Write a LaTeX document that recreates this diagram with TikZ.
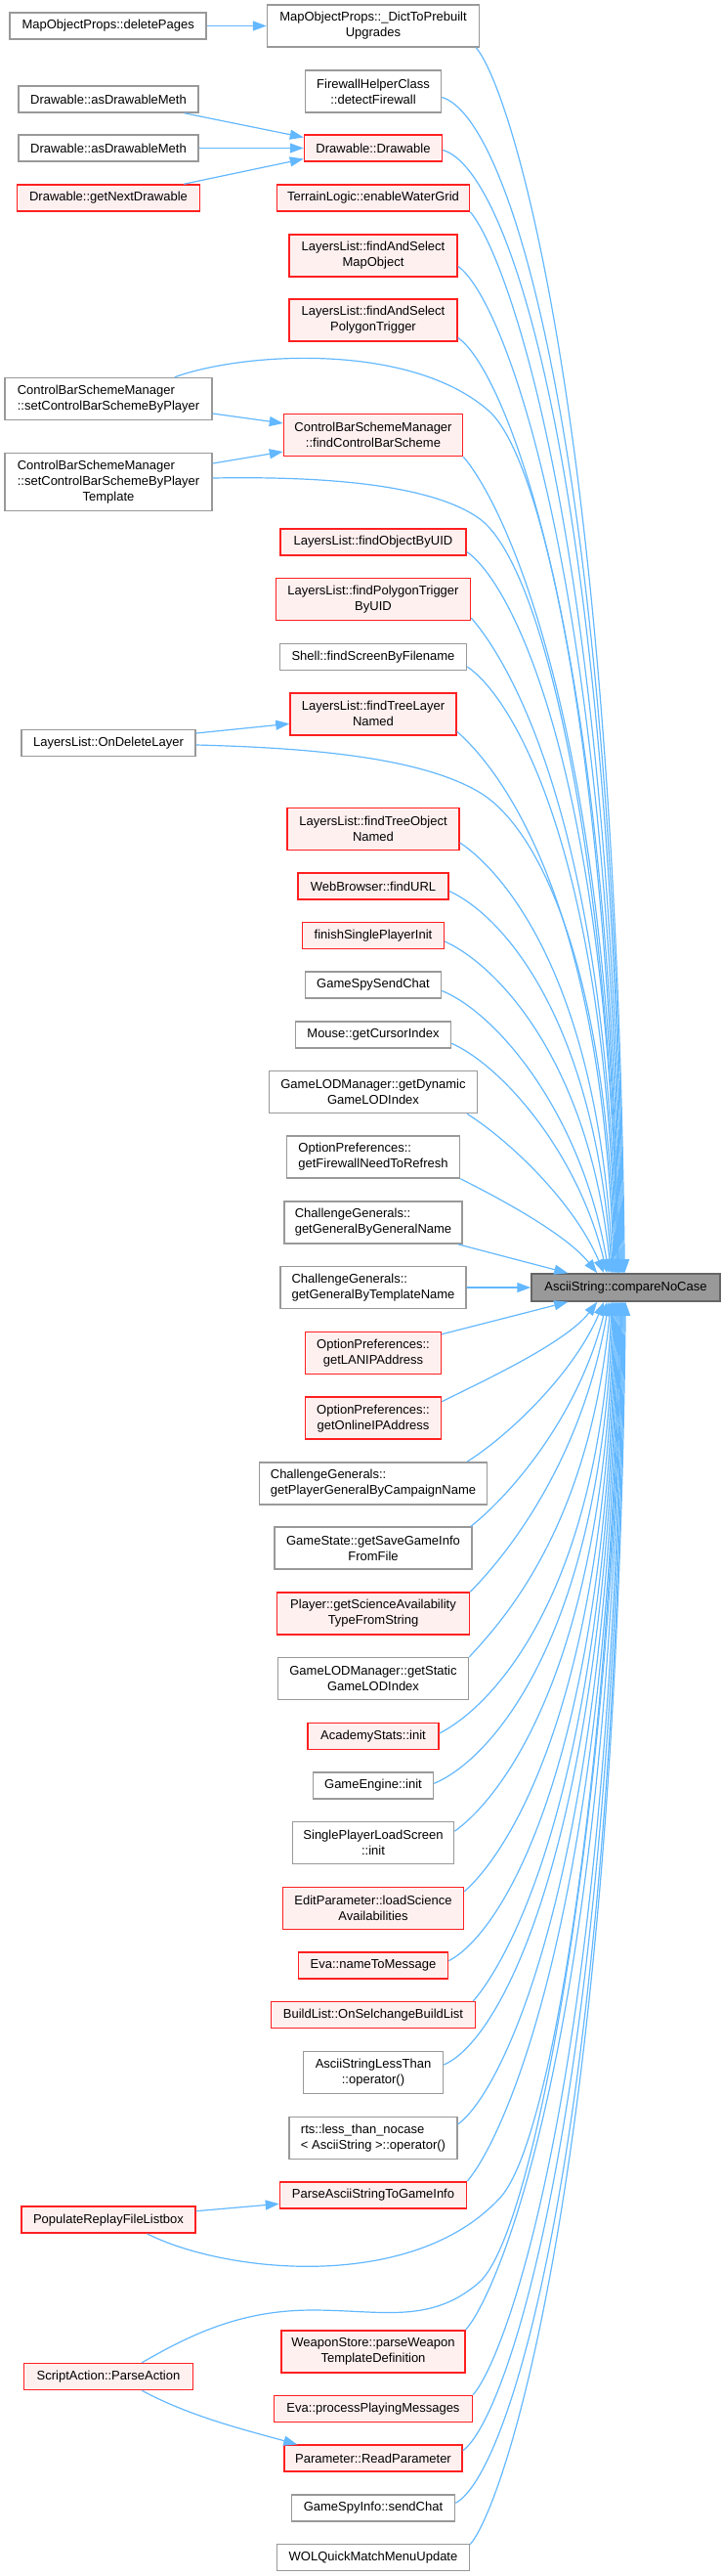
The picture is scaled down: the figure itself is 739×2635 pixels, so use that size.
\documentclass[tikz,border=0pt]{standalone}
\usepackage{fontspec}
\setmainfont{Liberation Sans}
\usepackage{calc}
\usetikzlibrary{arrows.meta,calc}
\definecolor{edgec}{HTML}{63B8FF}
\definecolor{redb}{HTML}{FF2020}
\definecolor{redf}{HTML}{FFF0F0}
\definecolor{grayb}{HTML}{999999}
\definecolor{tgtf}{HTML}{999999}
\definecolor{tgtb}{HTML}{666666}
\begin{document}
\begin{tikzpicture}[x=1pt,y=-1pt,
 nb/.style={draw, line width=1.5pt, inner sep=0pt, font=\fontsize{13}{16}\selectfont, align=center, text=black},
 gb/.style={nb, draw=grayb, fill=white},
 rb/.style={nb, draw=redb, fill=redf},
 tb/.style={nb, draw=tgtb, fill=tgtf},
 h1/.style={minimum height=27pt},
 h2/.style={minimum height=43pt},
 h3/.style={minimum height=59pt},
 ce/.style={draw=edgec, line width=1.2pt, -{Triangle[length=14pt,width=10pt]}}]
\useasboundingbox (0,0) rectangle (739,2635);
% left column
\node[gb,h1,minimum width=201pt] (delP) at (110.7,26.5) {MapObjectProps::deletePages};
\node[gb,h1,minimum width=184pt] (adm1) at (111,101.5) {Drawable::asDrawableMeth};
\node[gb,h1,minimum width=184pt] (adm2) at (111,151.5) {Drawable::asDrawableMeth};
\node[rb,h1,minimum width=187pt] (gnd) at (111,202.5) {Drawable::getNextDrawable};
\node[gb,h2,minimum width=212pt,align=left] (scbp) at (111,408) {ControlBarSchemeManager\\::setControlBarSchemeByPlayer};
\node[gb,h3,minimum width=212pt] (scbpt) at (111,493) {\makebox[\widthof{::setControlBarSchemeByPlayer}][l]{ControlBarSchemeManager}\\::setControlBarSchemeByPlayer\\Template};
\node[gb,h1,minimum width=178pt] (odl) at (111,760) {LayersList::OnDeleteLayer};
\node[rb,h1,minimum width=178pt] (prfl) at (111,2270.7) {PopulateReplayFileListbox};
\node[rb,h1,minimum width=173pt] (spa) at (111,2431) {ScriptAction::ParseAction};
% middle column
\node[gb,h2,minimum width=217pt] (dtp) at (382,26.5) {MapObjectProps::\_DictToPrebuilt\\Upgrades};
\node[gb,h2,minimum width=139pt] (fw) at (382,93.5) {FirewallHelperClass\\::detectFirewall};
\node[rb,h1,minimum width=141pt] (dd) at (382,151.5) {Drawable::Drawable};
\node[rb,h1,minimum width=197pt] (tl) at (382,202.5) {TerrainLogic::enableWaterGrid};
\node[rb,h2,minimum width=172pt] (fasm) at (382,261.5) {LayersList::findAndSelect\\MapObject};
\node[rb,h2,minimum width=172pt] (fasp) at (382,327.5) {LayersList::findAndSelect\\PolygonTrigger};
\node[rb,h2,minimum width=183pt] (fcbs) at (382,445) {ControlBarSchemeManager\\::findControlBarScheme};
\node[rb,h1,minimum width=190pt] (fou) at (382,554.5) {LayersList::findObjectByUID};
\node[rb,h2,minimum width=199pt] (fpt) at (382,613) {LayersList::findPolygonTrigger\\ByUID};
\node[gb,h1,minimum width=191pt] (sfs) at (382,672) {Shell::findScreenByFilename};
\node[rb,h2,minimum width=170pt] (ftl) at (382,730.3) {LayersList::findTreeLayer\\Named};
\node[rb,h2,minimum width=176pt] (fto) at (382,848) {LayersList::findTreeObject\\Named};
\node[rb,h1,minimum width=154pt] (wb) at (382,906.5) {WebBrowser::findURL};
\node[rb,h1,minimum width=145pt] (fsp) at (382,957) {finishSinglePlayerInit};
\node[gb,h1,minimum width=139pt] (gssc) at (382,1007.5) {GameSpySendChat};
\node[gb,h1,minimum width=159pt] (mci) at (382,1058.3) {Mouse::getCursorIndex};
\node[gb,h2,minimum width=213pt] (gdl) at (382,1117.2) {GameLODManager::getDynamic\\GameLODIndex};
\node[gb,h2,minimum width=177pt,align=left] (gfn) at (382,1183.5) {OptionPreferences::\\getFirewallNeedToRefresh};
\node[gb,h2,minimum width=182pt,align=left] (ggn) at (382,1250.5) {ChallengeGenerals::\\getGeneralByGeneralName};
\node[gb,h2,minimum width=190pt,align=left] (ggt) at (382,1317) {ChallengeGenerals::\\getGeneralByTemplateName};
\node[tb,minimum height=28pt,minimum width=193pt] (T) at (640.5,1317) {AsciiString::compareNoCase};
\node[rb,h2,minimum width=139pt] (lan) at (382,1384) {OptionPreferences::\\getLANIPAddress};
\node[rb,h2,minimum width=139pt] (oip) at (382,1450.7) {OptionPreferences::\\getOnlineIPAddress};
\node[gb,h2,minimum width=233pt,align=left] (gpg) at (382,1517.3) {ChallengeGenerals::\\getPlayerGeneralByCampaignName};
\node[gb,h2,minimum width=202pt] (gsg) at (382,1583.7) {GameState::getSaveGameInfo\\FromFile};
\node[rb,h2,minimum width=197pt] (psa) at (382,1650.5) {Player::getScienceAvailability\\TypeFromString};
\node[gb,h2,minimum width=195pt] (gsl) at (382,1717.2) {GameLODManager::getStatic\\GameLODIndex};
\node[rb,h1,minimum width=134pt] (asi) at (382,1776) {AcademyStats::init};
\node[gb,h1,minimum width=123pt] (gei) at (382,1826.3) {GameEngine::init};
\node[gb,h2,minimum width=165pt] (spls) at (382,1885.2) {SinglePlayerLoadScreen\\::init};
\node[rb,h2,minimum width=185pt] (epl) at (382,1951.8) {EditParameter::loadScience\\Availabilities};
\node[rb,h1,minimum width=153pt] (ntm) at (382,2010.7) {Eva::nameToMessage};
\node[rb,h1,minimum width=209pt] (bl) at (382,2061.2) {BuildList::OnSelchangeBuildList};
\node[gb,h2,minimum width=143pt] (aslt) at (382,2120) {AsciiStringLessThan\\::operator()};
\node[gb,h2,minimum width=172pt,align=left] (rts) at (382,2186.8) {rts::less\_than\_nocase\\< AsciiString >::operator()};
\node[rb,h1,minimum width=191pt] (pas) at (382,2245.3) {ParseAsciiStringToGameInfo};
\node[rb,h2,minimum width=188pt] (ws) at (382,2405.3) {WeaponStore::parseWeapon\\TemplateDefinition};
\node[rb,h1,minimum width=203pt] (ppm) at (382,2463.8) {Eva::processPlayingMessages};
\node[rb,h1,minimum width=182pt] (rp) at (382,2514.7) {Parameter::ReadParameter};
\node[gb,h1,minimum width=167pt] (gsi) at (382,2565.3) {GameSpyInfo::sendChat};
\node[gb,h1,minimum width=197pt] (wol) at (382,2615.8) {WOLQuickMatchMenuUpdate};
% left-to-middle edges
\draw[ce] (delP.east) -- (dtp.west);
\draw[ce] ($(adm1.south east)+(-15,0)$) -- ($(dd.west)+(0,-11)$);
\draw[ce] (adm2.east) -- (dd.west);
\draw[ce] ($(gnd.north east)+(-17,0)$) -- ($(dd.west)+(0,11)$);
\draw[ce] ($(scbp.east)+(0,15)$) -- ($(fcbs.west)+(0,-12)$);
\draw[ce] ($(scbpt.east)+(0,-19)$) -- ($(fcbs.west)+(0,17)$);
\draw[ce] ($(odl.east)+(0,-10)$) -- ($(ftl.west)+(0,10)$);
\draw[ce] ($(prfl.east)+(0,-9)$) -- ($(pas.west)+(0,9)$);
\draw[ce] ($(spa.south east)+(-53,0)$) .. controls +(50,27) and +(-50,-14) .. ($(rp.north west)+(14,0)$);
% edges into target from above
\draw[ce] ($(dtp.south east)+(-4,0)$) .. controls +(35,40) and +(-10,-878) .. ($(T.north west)+(96,0)$);
\draw[ce] ($(fw.east)+(0,6)$) .. controls +(70,20) and +(-10,-842) .. ($(T.north west)+(95,0)$);
\draw[ce] ($(dd.east)+(0,2)$) .. controls +(70,20) and +(-10,-805) .. ($(T.north west)+(94,0)$);
\draw[ce] (tl.south east) .. controls +(35,40) and +(-10,-761) .. ($(T.north west)+(93,0)$);
\draw[ce] ($(fasm.east)+(0,11)$) .. controls +(45,30) and +(-10,-721) .. ($(T.north west)+(92,0)$);
\draw[ce] ($(fasp.east)+(0,18)$) .. controls +(45,30) and +(-10,-671) .. ($(T.north west)+(91,0)$);
\draw[ce] ($(scbp.north east)+(-39,0)$) .. controls (250,360) and (420,350) .. (500,420) .. controls (560,472) and (624,800) .. ($(T.north west)+(90,0)$);
\draw[ce] (fcbs.south east) .. controls +(35,40) and +(-10,-586) .. ($(T.north west)+(90,0)$);
\draw[ce] ($(scbpt.east)+(0,-4)$) .. controls (330,487) and (440,495) .. (490,530) .. controls (560,579) and (625,900) .. ($(T.north west)+(89,0)$);
\draw[ce] ($(fou.east)+(0,10)$) .. controls +(45,30) and +(-10,-517) .. ($(T.north west)+(89,0)$);
\draw[ce] ($(fpt.east)+(0,19)$) .. controls +(35,40) and +(-10,-470) .. ($(T.north west)+(88,0)$);
\draw[ce] ($(sfs.east)+(0,10)$) .. controls +(45,30) and +(-10,-435) .. ($(T.north west)+(87,0)$);
\draw[ce] ($(odl.east)+(0,2)$) .. controls (320,765) and (430,775) .. (490,810) .. controls (555,848) and (622,1000) .. ($(T.north west)+(86,0)$);
\draw[ce] ($(ftl.east)+(0,18)$) .. controls +(40,35) and +(-12,-389) .. ($(T.north west)+(85,0)$);
\draw[ce] ($(fto.east)+(0,14)$) .. controls +(45,30) and +(-15,-300) .. ($(T.north west)+(84,0)$);
\draw[ce] ($(wb.east)+(0,5)$) .. controls +(55,25) and +(-18,-260) .. ($(T.north west)+(83,0)$);
\draw[ce] ($(fsp.east)+(0,6)$) .. controls +(55,25) and +(-22,-215) .. ($(T.north west)+(82,0)$);
\draw[ce] ($(gssc.east)+(0,6)$) .. controls +(55,22) and +(-28,-165) .. ($(T.north west)+(80,0)$);
\draw[ce] ($(mci.east)+(0,9)$) .. controls +(50,22) and +(-30,-125) .. ($(T.north west)+(78,0)$);
\draw[ce] ($(gdl.south east)+(-11,0)$) .. controls +(40,25) and +(-32,-75) .. ($(T.north west)+(75,0)$);
\draw[ce] (gfn.south east) .. controls +(40,20) and +(-32,-40) .. ($(T.north west)+(68,0)$);
\draw[ce] ($(ggn.south east)+(-5,0)$) -- ($(T.north west)+(38,0)$);
\draw[ce] (ggt.east) -- (T.west);
% edges into target from below
\draw[ce] ($(lan.north east)+(0,3)$) -- ($(T.south west)+(38,0)$);
\draw[ce] ($(oip.east)+(0,-17)$) .. controls +(40,-20) and +(-32,42) .. ($(T.south west)+(68,0)$);
\draw[ce] ($(gpg.north east)+(-21,0)$) .. controls +(40,-25) and +(-32,75) .. ($(T.south west)+(75,0)$);
\draw[ce] ($(gsg.north east)+(-2,0)$) .. controls +(38,-30) and +(-30,120) .. ($(T.south west)+(78,0)$);
\draw[ce] (psa.north east) .. controls +(35,-35) and +(-28,165) .. ($(T.south west)+(80,0)$);
\draw[ce] (gsl.north east) .. controls +(35,-38) and +(-22,230) .. ($(T.south west)+(82,0)$);
\draw[ce] ($(asi.east)+(0,-3)$) .. controls +(55,-28) and +(-15,300) .. ($(T.south west)+(83,0)$);
\draw[ce] ($(gei.east)+(0,-2)$) .. controls +(60,-25) and +(-12,340) .. ($(T.south west)+(84,0)$);
\draw[ce] ($(spls.east)+(0,-12)$) .. controls +(45,-32) and +(-10,380) .. ($(T.south west)+(85,0)$);
\draw[ce] ($(epl.east)+(0,-17)$) .. controls +(40,-35) and +(-10,423) .. ($(T.south west)+(86,0)$);
\draw[ce] ($(ntm.east)+(0,-5)$) .. controls +(55,-28) and +(-10,472) .. ($(T.south west)+(87,0)$);
\draw[ce] ($(bl.north east)+(-3,0)$) .. controls +(35,-40) and +(-10,502) .. ($(T.south west)+(88,0)$);
\draw[ce] ($(aslt.east)+(0,-8)$) .. controls +(60,-25) and +(-10,547) .. ($(T.south west)+(89,0)$);
\draw[ce] ($(rts.east)+(0,-14)$) .. controls +(45,-32) and +(-10,589) .. ($(T.south west)+(90,0)$);
\draw[ce] (pas.north east) .. controls +(35,-40) and +(-10,630) .. ($(T.south west)+(91,0)$);
\draw[ce] ($(prfl.south east)+(-50,0)$) .. controls (230,2325) and (420,2345) .. (510,2250) .. controls (570,2193) and (628,1750) .. ($(T.south west)+(92,0)$);
\draw[ce] ($(spa.north east)+(-53,0)$) .. controls (200,2385) and (250,2363) .. (320,2363) .. controls (390,2363) and (440,2378) .. (490,2335) .. controls (552,2282) and (630,1800) .. ($(T.south west)+(93,0)$);
\draw[ce] (ws.north east) .. controls +(35,-40) and +(-10,737) .. ($(T.south west)+(93,0)$);
\draw[ce] (ppm.north east) .. controls +(35,-40) and +(-10,783) .. ($(T.south west)+(94,0)$);
\draw[ce] ($(rp.east)+(0,-8)$) .. controls +(45,-32) and +(-10,823) .. ($(T.south west)+(95,0)$);
\draw[ce] ($(gsi.east)+(0,-5)$) .. controls +(55,-28) and +(-10,860) .. ($(T.south west)+(96,0)$);
\draw[ce] ($(wol.north east)+(0,1)$) .. controls +(35,-40) and +(-10,890) .. ($(T.south west)+(97,0)$);
\end{tikzpicture}
\end{document}
